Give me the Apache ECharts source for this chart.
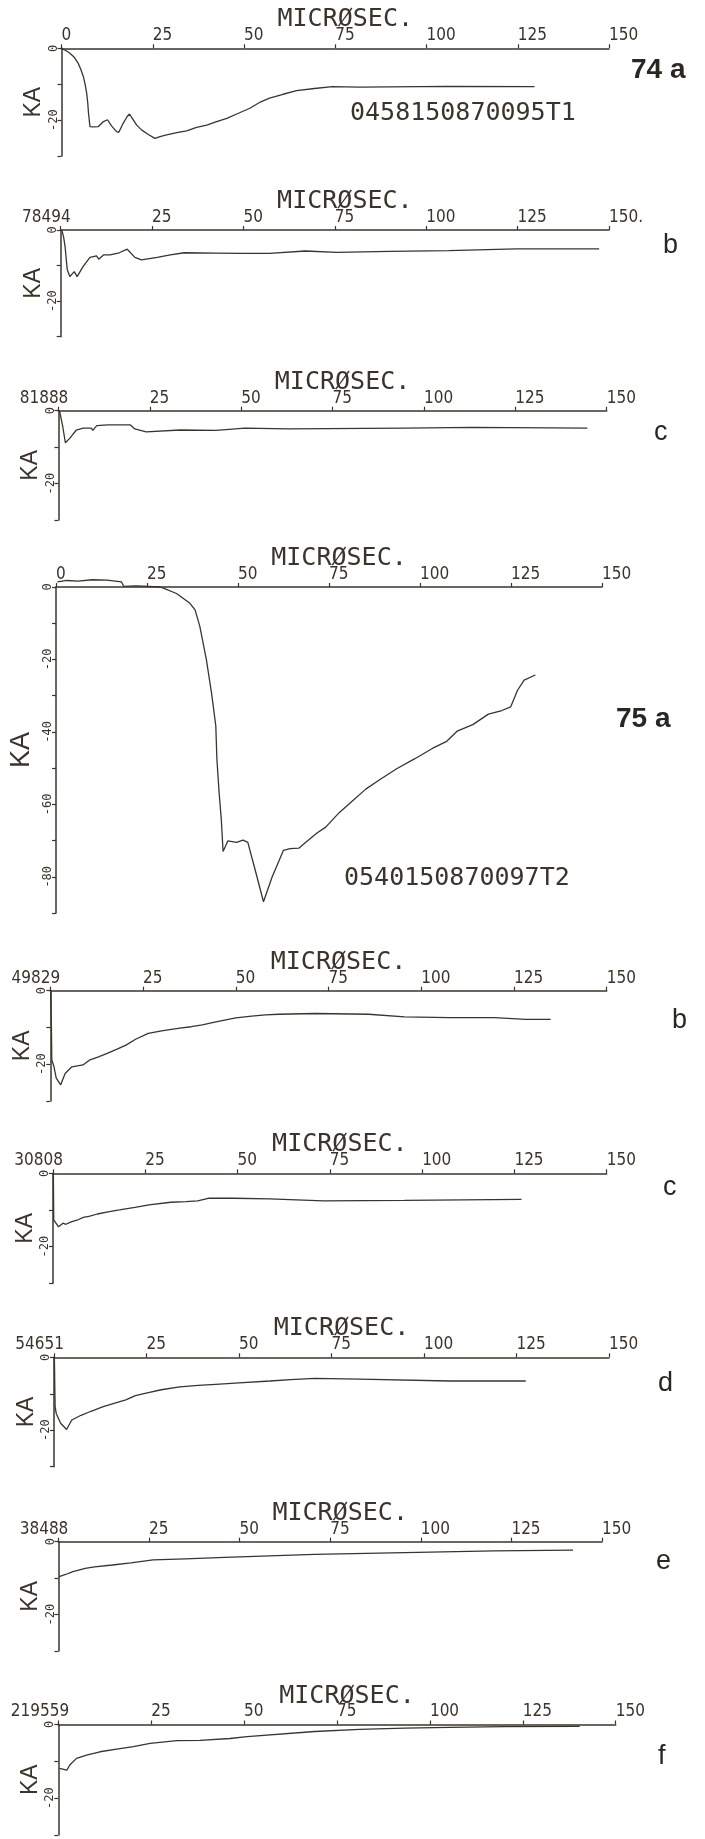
<!DOCTYPE html>
<html lang="en">
<head>
<meta charset="UTF-8">
<title>Stroke current records 74 / 75</title>
<script src="https://cdn.jsdelivr.net/npm/echarts@6/dist/echarts.min.js"></script>
<style>
  html, body { margin: 0; padding: 0; background: #ffffff; }
  #chart { width: 705px; height: 1839px; }
</style>
</head>
<body>
<div id="chart"></div>
<script>
// ---- data (time in microseconds, current in kA) ----
var t74a = [0, 0.3, 1.4, 2.3, 3.5, 4.6, 5.3, 6.0, 6.5, 6.9, 7.2, 7.4, 7.8, 8.7, 10.1, 11.5, 12.6, 13.7, 15.1, 15.7, 16.9, 18.0, 18.6, 19.4, 20.6, 22.0, 23.8, 25.6, 27, 28.5, 31.6, 34.3, 37.0, 39.8, 42.5, 45.3, 48, 51.6, 54.6, 57.0, 60.7, 64.4, 69.3, 74.2, 81.6, 106, 129.6];
var ka74a = [0, -0.3, -0.75, -1.4, -2.5, -4.2, -5.9, -7.9, -10.2, -12.5, -15.3, -18.1, -21.8, -21.9, -21.8, -20.4, -19.9, -21.6, -23.2, -23.4, -20.9, -19, -18.3, -19.5, -21.4, -22.8, -24, -25.1, -24.6, -24.2, -23.5, -23, -22, -21.4, -20.4, -19.5, -18.3, -16.7, -14.9, -13.9, -12.8, -11.8, -11.2, -10.7, -10.8, -10.6, -10.7];

var t74b = [0.3, 0.8, 1.2, 1.8, 2.5, 3.7, 4.5, 6.1, 8.0, 9.8, 10.4, 11.7, 13.5, 16.0, 18.2, 20.3, 22.1, 26.4, 30, 33.8, 42, 49.7, 57.1, 66.9, 75.5, 90, 106.2, 124.6, 147.3];
var ka74b = [0, -2, -4.7, -11.2, -13.1, -11.7, -13.1, -10.3, -7.7, -7.3, -8.2, -7.0, -7.0, -6.4, -5.4, -7.7, -8.4, -7.7, -7.0, -6.4, -6.5, -6.6, -6.6, -5.9, -6.3, -6.0, -5.8, -5.3, -5.3];

var t74c = [0.3, 0.6, 1.2, 1.9, 3.1, 4.9, 6.8, 9.0, 9.4, 10.5, 13.6, 19.7, 20.9, 24.0, 33.3, 43.1, 51.1, 62.8, 94.8, 113.3, 144.7];
var ka74c = [0, -0.3, -4.4, -8.8, -7.6, -5.3, -4.8, -4.8, -5.4, -4.1, -3.9, -3.9, -5.0, -5.8, -5.3, -5.4, -4.8, -5.0, -4.8, -4.6, -4.8];

var t75a = [0.4, 3, 6, 10, 14, 18, 18.6, 22, 28.6, 29.5, 33.1, 36.8, 38.2, 39.5, 41.3, 42.7, 43.9, 44.2, 44.8, 45.4, 45.9, 47.2, 49.6, 51.4, 52.7, 54.5, 57.0, 59.4, 61.3, 62.5, 64.3, 66.7, 69.2, 71.7, 74.1, 77.8, 81.5, 85.1, 88.8, 93.7, 98.6, 103.5, 107.2, 110.2, 114.5, 118.8, 122.5, 124.9, 126.8, 128.6, 131.7];
var ka75a = [1.4, 1.8, 1.6, 2.0, 1.9, 1.4, 0.2, 0.3, 0, -0.3, -1.8, -4.5, -6.3, -10.8, -20, -29.1, -38.3, -47.5, -56.6, -64, -73.0, -70.1, -70.5, -69.9, -70.5, -77.3, -86.9, -80, -75.5, -72.7, -72.2, -72.1, -70, -67.9, -66.3, -62.3, -59, -55.8, -53.3, -50.1, -47.4, -44.5, -42.7, -39.8, -38, -35.1, -34.1, -33.1, -28.5, -25.7, -24.3];

var t75b = [0.1, 0.3, 0.4, 1.0, 1.6, 2.8, 4.0, 5.8, 8.8, 10.7, 13, 15.5, 18, 20.4, 23, 26.4, 30, 34.9, 38, 41.0, 44, 47.0, 50, 54.3, 58, 61.6, 71.3, 85.8, 95.5, 107.6, 119.7, 128.2, 134.9];
var ka75b = [0, -10, -18.8, -20.7, -23.8, -25.6, -22.5, -20.7, -20.2, -18.8, -18, -17.0, -15.9, -14.8, -13.2, -11.6, -10.9, -10.2, -9.8, -9.3, -8.6, -8.0, -7.4, -6.9, -6.6, -6.4, -6.2, -6.4, -7.1, -7.3, -7.3, -7.8, -7.8];

var t75c = [0.1, 0.2, 1.5, 2.7, 3.5, 5.1, 6.5, 8.2, 10, 12, 14.9, 18, 22.2, 26, 31.9, 36, 39.2, 42.3, 49.0, 58.7, 73.3, 95.2, 126.9];
var ka75c = [0, -12.7, -14.6, -13.6, -13.9, -13.2, -12.8, -12.0, -11.7, -11.1, -10.5, -10.0, -9.3, -8.6, -7.9, -7.7, -7.5, -6.8, -6.8, -7.0, -7.5, -7.4, -7.1];

var t75d = [0.1, 0.3, 0.6, 1.8, 3.4, 4.8, 7.3, 10, 13.3, 16, 19.4, 22, 25.5, 29, 34.0, 39, 43.7, 50, 58.3, 64, 70.4, 82.6, 106.9, 127.5];
var ka75d = [0, -13.5, -15.4, -18.1, -19.8, -17.2, -15.9, -14.8, -13.5, -12.7, -11.7, -10.5, -9.7, -8.9, -8.1, -7.7, -7.4, -7.0, -6.5, -6.1, -5.8, -6.0, -6.5, -6.5];

var t75e = [0.2, 1, 2, 4, 7.4, 10, 14.9, 20, 26.1, 35, 45.9, 70.7, 95.5, 120.3, 142];
var ka75e = [-9.6, -9.3, -9.0, -8.2, -7.3, -6.9, -6.4, -5.8, -5.0, -4.7, -4.3, -3.5, -3.0, -2.5, -2.3];

var t75f = [0.3, 2.3, 3.1, 4.9, 7.6, 11.2, 15.7, 20.2, 24.7, 31.9, 38.1, 46.2, 50.8, 69, 81.1, 93.2, 105.2, 120, 140.3];
var ka75f = [-11.9, -12.4, -11.0, -9.2, -8.3, -7.4, -6.7, -6.0, -5.1, -4.4, -4.3, -3.8, -3.3, -1.9, -1.3, -1.0, -0.8, -0.6, -0.5];

var times = [t74a, t74b, t74c, t75a, t75b, t75c, t75d, t75e, t75f];
var currents = [ka74a, ka74b, ka74c, ka75a, ka75b, ka75c, ka75d, ka75e, ka75f];

// ---- labels ----
var firstTickLabels = ['0', '78494', '81888', '0', '49829', '30808', '54651', '38488', '219559'];
var lastTickLabels = ['150', '150.', '150', '150', '150', '150', '150', '150', '150'];
var panelNames = ['74 a', 'b', 'c', '75 a', 'b', 'c', 'd', 'e', 'f'];
var recordCodes = ['0458150870095T1', '', '', '0540150870097T2', '', '', '', '', ''];
var yMins = [-30, -30, -30, -90, -30, -30, -30, -30, -30];

// ---- layout (px) ----
var axisTop = [48.3, 230, 410.7, 587, 990.7, 1173.3, 1357.3, 1541.7, 1724.5];
var axisLeft = [61.5, 60.7, 58.4, 51.7, 50.3, 53, 54, 58.4, 58.3];
var axisRight = [609, 609, 606.7, 602, 606.7, 606.7, 609, 602, 615.7];
var axisBottom = [156, 336.7, 520, 913, 1101, 1283.3, 1466.7, 1651, 1835];
var namePos = [[631, 70], [663, 246], [654, 433], [616, 719], [672, 1021], [663, 1188], [658, 1384], [656, 1562], [658, 1757]];
var codePos = [[350, 113], null, null, [344, 878]];

var ink = '#3b342c';
var plotFont = '"Liberation Sans Narrow", "DejaVu Sans Condensed", sans-serif';
var monoFont = '"DejaVu Sans Mono", monospace';

var grids = [], xAxes = [], yAxes = [], series = [], graphics = [];

for (var i = 0; i < 9; i++) {
    grids.push({
        left: axisLeft[i],
        top: axisTop[i],
        width: axisRight[i] - axisLeft[i],
        height: axisBottom[i] - axisTop[i]
    });

    var first = firstTickLabels[i];
    var isRecord = first !== '0';
    // shift long record numbers so they end a little right of the tick
    var pad = isRecord ? Math.max(0, first.length * 7.75 - 10) : 0;

    (function (first, last, isRecord, pad) {
        xAxes.push({
            gridIndex: i,
            type: 'value',
            position: 'top',
            min: 0,
            max: 150,
            interval: 25,
            name: 'MICRØSEC.',
            nameLocation: 'middle',
            nameGap: 16,
            nameMoveOverlap: false,
            nameTextStyle: { fontFamily: monoFont, fontSize: 25, color: ink, padding: [0, 0, 0, 20] },
            axisLine: { onZero: false, lineStyle: { color: ink, width: 1.5 } },
            axisTick: { length: 4, lineStyle: { color: ink, width: 1.2 } },
            splitLine: { show: false },
            axisLabel: {
                align: 'left',
                alignMinLabel: isRecord ? 'center' : 'left',
                margin: 4,
                fontFamily: plotFont,
                fontSize: 17,
                color: ink,
                formatter: function (v) {
                    if (v === 0) return isRecord ? '{rec|' + first + '}' : first;
                    if (v === 150) return last;
                    return String(v);
                },
                rich: {
                    rec: { fontFamily: plotFont, fontSize: 17, color: ink, padding: [0, pad, 0, 0] }
                }
            }
        });
    })(first, lastTickLabels[i], isRecord, pad);

    yAxes.push({
        gridIndex: i,
        type: 'value',
        min: yMins[i],
        max: 0,
        interval: 10,
        name: 'KA',
        nameLocation: 'middle',
        nameRotate: 90,
        nameGap: i === 3 ? 21 : 16,
        nameMoveOverlap: false,
        nameTextStyle: { fontFamily: '"Liberation Sans", sans-serif', fontSize: i === 3 ? 27 : 23, color: ink },
        axisLine: { onZero: false, lineStyle: { color: ink, width: 1.5 } },
        axisTick: { length: 4, lineStyle: { color: ink, width: 1.2 } },
        splitLine: { show: false },
        axisLabel: {
            rotate: 90,
            margin: 2,
            fontFamily: monoFont,
            fontSize: 12,
            color: ink,
            formatter: function (v) { return v % 20 === 0 ? String(v) : ''; }
        }
    });

    var pts = [];
    for (var k = 0; k < times[i].length; k++) pts.push([times[i][k], currents[i][k]]);
    series.push({
        type: 'line',
        xAxisIndex: i,
        yAxisIndex: i,
        data: pts,
        showSymbol: false,
        clip: false,
        silent: true,
        lineStyle: { color: ink, width: 1.3 }
    });

    graphics.push({
        type: 'text',
        x: namePos[i][0],
        y: namePos[i][1],
        style: {
            text: panelNames[i],
            fill: '#2a2622',
            font: (i === 0 || i === 3 ? 'bold 28px' : '27px') + ' "Liberation Sans", sans-serif',
            align: 'left',
            verticalAlign: 'middle'
        }
    });
    if (recordCodes[i]) {
        graphics.push({
            type: 'text',
            x: codePos[i][0],
            y: codePos[i][1],
            style: {
                text: recordCodes[i],
                fill: ink,
                font: '25px ' + monoFont,
                align: 'left',
                verticalAlign: 'middle'
            }
        });
    }
}

var myChart = echarts.init(document.getElementById('chart'));
myChart.setOption({
    backgroundColor: '#ffffff',
    animation: false,
    grid: grids,
    xAxis: xAxes,
    yAxis: yAxes,
    series: series,
    graphic: graphics
});
</script>
</body>
</html>
